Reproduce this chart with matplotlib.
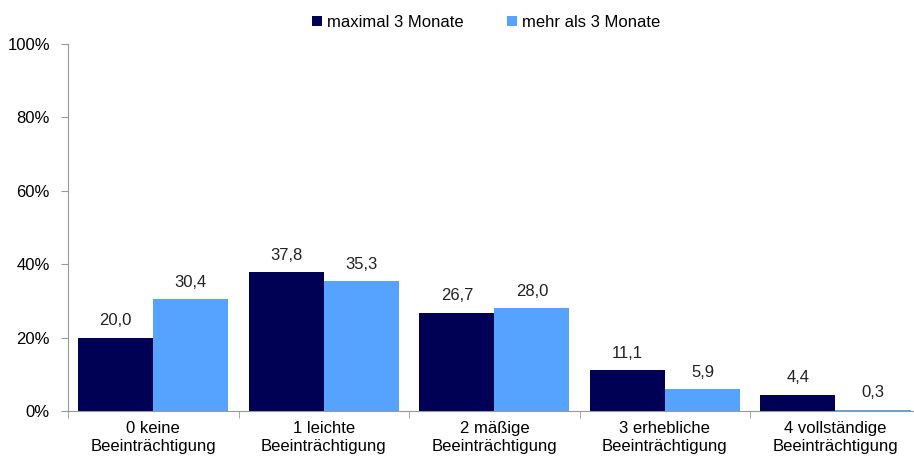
import numpy as np
import matplotlib
matplotlib.use("Agg")
import matplotlib.pyplot as plt

categories = ["0 keine\nBeeinträchtigung", "1 leichte\nBeeinträchtigung",
              "2 mäßige\nBeeinträchtigung", "3 erhebliche\nBeeinträchtigung",
              "4 vollständige\nBeeinträchtigung"]
series_names = ["maximal 3 Monate", "mehr als 3 Monate"]
max3 = [20.0, 37.8, 26.7, 11.1, 4.4]
mehr3 = [30.4, 35.3, 28.0, 5.9, 0.3]
colors = ["#000055", "#55A2FF"]

plt.rcParams['font.family'] = ['Liberation Sans Narrow', 'Liberation Sans', 'DejaVu Sans']
plt.rcParams['font.size'] = 12

fig = plt.figure(figsize=(9.14, 4.59), dpi=100)
# axes run a bit past the right edge, like the original export
ax = fig.add_axes([0.0744, 0.1046, 0.933, 0.7995])

x = np.arange(len(categories))
w = 0.44
b1 = ax.bar(x - w / 2, max3, w, color=colors[0], label=series_names[0])
b2 = ax.bar(x + w / 2, mehr3, w, color=colors[1], label=series_names[1])

for bars, vals in [(b1, max3), (b2, mehr3)]:
    for r, v in zip(bars, vals):
        ax.text(r.get_x() + r.get_width() / 2, v + 2.6, f"{v:.1f}".replace(".", ","),
                ha="center", va="bottom", fontsize=12, color="#222222")

ax.set_xlim(-0.5, len(categories) - 0.5)
ax.set_ylim(0, 100)
ax.set_yticks(np.arange(0, 101, 20))
ax.set_yticklabels([f"{v}%" for v in range(0, 101, 20)])
ax.set_xticks(x)
ax.set_xticklabels(categories, linespacing=1.3)
ax.set_xticks(np.arange(-0.5, len(categories)), minor=True)
ax.tick_params(axis="x", which="major", length=0, pad=7)
ax.tick_params(axis="x", which="minor", length=5, color="#999999")
ax.tick_params(axis="y", length=5, color="#999999", pad=8)

for s in ["top", "right"]:
    ax.spines[s].set_visible(False)
for s in ["left", "bottom"]:
    ax.spines[s].set_color("#999999")

fig.legend(loc="upper center", bbox_to_anchor=(0.532, 1.0), ncol=2, frameon=False,
           handlelength=0.6, handleheight=0.6, columnspacing=2.6, handletextpad=0.3,
           fontsize=12)

fig.savefig("out.png", dpi=100)
